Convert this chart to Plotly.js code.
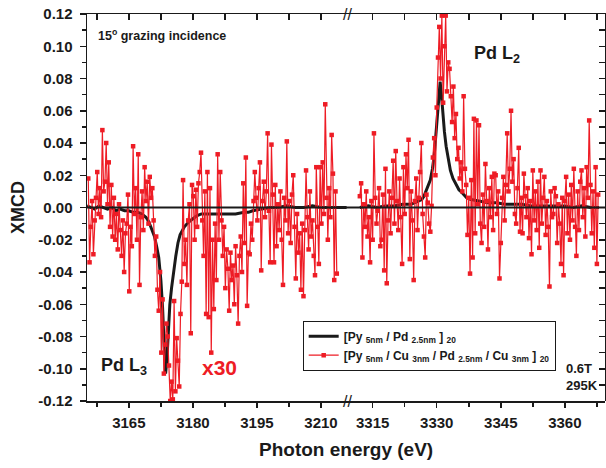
<!DOCTYPE html>
<html>
<head>
<meta charset="utf-8">
<script src="https://cdn.plot.ly/plotly-3.0.1.min.js"></script>
<style>html,body{margin:0;padding:0;background:#fff;}#chart{width:606px;height:468px;}</style>
</head>
<body>
<div id="chart"></div>
<script>
// ---------- DATA ----------
// Red series: [Py5nm/Cu3nm/Pd2.5nm/Cu3nm]20 (x30), sampled on an even energy grid
const redLowStartEV = 3155.5;
const redHighStartEV = 3312.0;
const redStepEV = 0.3;
const redLowXMCD = [
  0.018, -0.034, -0.012, 0.004, -0.029, -0.008, 0.006, 0.022, -0.004, 0.012,
  -0.006, 0.048, 0.010, 0.016, 0.040, 0.002, 0.028, -0.012, 0.014, -0.018,
  0.006, -0.020, -0.004, -0.026, 0.002, -0.014, -0.030, -0.008, -0.040, -0.016,
  -0.010, 0.008, -0.052, -0.012, -0.024, 0.038, -0.004, 0.012, -0.020, 0.033,
  -0.048, -0.006, 0.010, -0.014, 0.025, 0.004, 0.016, -0.010, 0.019, 0.006,
  0.012, -0.008, -0.030, -0.018, -0.051, -0.064, -0.040, -0.090, -0.057, -0.103,
  -0.085, -0.072, -0.080, -0.098, -0.120, -0.108, -0.119, -0.058, -0.114, -0.081,
  -0.095, -0.111, -0.066, -0.046, 0.017, -0.035, -0.020, -0.048, -0.008, 0.002,
  -0.078, 0.014, 0.007, -0.020, 0.011, -0.012, 0.015, 0.022, 0.034, -0.008,
  -0.030, 0.010, -0.066, 0.022, -0.068, 0.012, -0.090, -0.020, -0.063, -0.010,
  -0.045, 0.033, -0.020, 0.022, -0.008, -0.030, -0.012, -0.050, -0.026, -0.038,
  -0.064, -0.028, -0.045, -0.036, -0.060, -0.024, -0.042, -0.072, -0.030, -0.018,
  -0.040, 0.015, -0.022, 0.031, -0.061, -0.028, -0.029, -0.010, -0.020, 0.004,
  0.022, 0.006, -0.008, 0.012, 0.028, -0.039, 0.004, 0.016, -0.006, 0.010,
  0.046, -0.002, -0.034, 0.039, 0.008, -0.034, 0.014, -0.024, 0.002, -0.014,
  0.010, -0.020, -0.048, 0.006, -0.008, 0.041, -0.016, 0.004, -0.022, 0.008,
  0.020, -0.012, -0.044, -0.004, -0.028, -0.016, -0.051, -0.010, -0.055, -0.014,
  0.023, -0.006, -0.026, 0.010, -0.018, -0.008, -0.030, -0.042, 0.025, -0.012,
  -0.035, 0.025, -0.010, 0.028, -0.004, 0.064, 0.006, -0.020, 0.012, -0.006,
  0.045, 0.021, -0.045, 0.010, -0.041
];
const redHighXMCD = [
  0.007, 0.015, -0.031, 0.002, -0.012, 0.010, -0.018, -0.006, -0.034, 0.004,
  -0.020, 0.046, 0.006, -0.010, -0.002, 0.012, -0.024, -0.020, 0.008, -0.039,
  0.024, -0.047, -0.008, 0.010, -0.016, 0.006, 0.029, -0.010, 0.035, 0.004,
  -0.014, 0.018, -0.006, -0.035, 0.025, -0.004, 0.033, 0.012, 0.042, -0.032,
  0.010, -0.008, -0.045, 0.004, 0.018, -0.014, 0.006, 0.022, 0.040, -0.004,
  -0.018, -0.031, 0.008, 0.003, -0.010, -0.015, 0.001, 0.031, 0.043, 0.020,
  0.062, 0.093, 0.112, 0.080, 0.119, 0.065, 0.100, 0.119, 0.072, 0.090,
  0.086, 0.069, 0.053, 0.075, 0.043, 0.058, 0.030, 0.037, 0.018, 0.028,
  0.010, 0.069, 0.024, 0.014, -0.017, 0.006, -0.041, 0.017, -0.031, 0.055,
  -0.016, 0.054, 0.002, 0.051, -0.010, -0.022, 0.008, -0.012, 0.027, 0.004,
  -0.026, 0.012, -0.006, 0.019, -0.014, 0.021, 0.020, -0.004, 0.010, -0.044,
  -0.022, 0.006, 0.019, -0.008, 0.014, 0.046, 0.010, 0.024, 0.060, 0.016,
  0.030, -0.004, -0.010, 0.012, 0.037, -0.015, 0.006, -0.016, 0.021, 0.007,
  -0.006, 0.012, -0.019, 0.004, -0.029, 0.023, -0.008, 0.010, -0.014, 0.016,
  -0.025, 0.023, -0.010, 0.006, 0.019, -0.017, 0.004, -0.012, -0.049, 0.010,
  -0.006, -0.004, 0.012, 0.007, -0.022, 0.002, -0.010, -0.035, 0.006, -0.042,
  0.004, 0.019, -0.016, 0.008, -0.020, 0.014, -0.008, 0.024, -0.012, -0.030,
  0.010, -0.014, 0.016, 0.023, -0.006, 0.012, -0.018, 0.025, 0.006, 0.054,
  0.014, -0.016, 0.010, -0.025, 0.025, -0.035, 0.008
];

// Black series: [Py5nm/Pd2.5nm]20
const blackLowEV = [3155.2, 3156, 3157, 3158, 3159, 3160, 3161, 3162, 3163, 3164, 3165, 3166, 3167, 3168,
  3169, 3169.5, 3170, 3170.5, 3171, 3171.5, 3172, 3172.5, 3172.9, 3173.3, 3173.6, 3173.9, 3174.2,
  3174.6, 3175, 3175.4, 3176, 3176.5, 3177, 3178, 3179, 3180, 3181, 3182, 3184, 3186, 3188, 3190,
  3192, 3193, 3194, 3196, 3198, 3200, 3202, 3204, 3206, 3208, 3210, 3212, 3214, 3216];
const blackLowXMCD = [0.001, 0.000, -0.001, 0.001, 0.000, -0.001, 0.000, -0.002, -0.001, -0.002, -0.002, -0.003, -0.003, -0.004,
  -0.006, -0.008, -0.011, -0.014, -0.018, -0.024, -0.031, -0.045, -0.062, -0.088, -0.103, -0.095, -0.075,
  -0.060, -0.050, -0.041, -0.030, -0.022, -0.017, -0.012, -0.009, -0.007, -0.005, -0.004, -0.004, -0.004, -0.004, -0.004,
  -0.003, -0.003, -0.002, -0.001, 0.000, 0.000, 0.001, 0.000, 0.000, 0.001, 0.000, 0.000, 0.000, 0.000];
const blackHighEV = [3312, 3314, 3316, 3318, 3320, 3322, 3324, 3325, 3326, 3326.5, 3327, 3327.5, 3328, 3328.5,
  3329, 3329.4, 3329.8, 3330.2, 3330.5, 3330.8, 3331.1, 3331.4, 3331.8, 3332.2, 3332.7, 3333.2, 3333.8,
  3334.5, 3335.2, 3336, 3337, 3338, 3340, 3342, 3344, 3346, 3348, 3350, 3352, 3354, 3356, 3358, 3360,
  3362, 3364, 3366, 3368];
const blackHighXMCD = [0.000, 0.001, 0.000, 0.001, 0.001, 0.002, 0.002, 0.003, 0.004, 0.005, 0.007, 0.010, 0.013, 0.017,
  0.024, 0.032, 0.045, 0.060, 0.072, 0.078, 0.070, 0.058, 0.047, 0.038, 0.029, 0.023, 0.018,
  0.014, 0.011, 0.009, 0.006, 0.005, 0.004, 0.003, 0.003, 0.002, 0.002, 0.002, 0.001, 0.001, 0.001, 0.001, 0.001,
  0.000, 0.001, 0.000, 0.000];

const yTickVals = [-0.12, -0.10, -0.08, -0.06, -0.04, -0.02, 0.00, 0.02, 0.04, 0.06, 0.08, 0.10, 0.12];
const yTickText = ['-0.12', '-0.10', '-0.08', '-0.06', '-0.04', '-0.02', '0.00', '0.02', '0.04', '0.06', '0.08', '0.10', '0.12'];
const lowRange = [3155.2, 3216.1];
const highRange = [3309.0, 3369.4];

const legendBlack = '[Py <sub>5nm</sub> / Pd <sub>2.5nm</sub> ] <sub>20</sub>';
const legendRed = '[Py <sub>5nm</sub> / Cu <sub>3nm</sub> / Pd <sub>2.5nm</sub> / Cu <sub>3nm</sub> ] <sub>20</sub>';

// ---------- BUILD ----------
const energyGrid = (start, n) => Array.from({length: n}, (_, i) => +(start + i * redStepEV).toFixed(2));
const redLowEV = energyGrid(redLowStartEV, redLowXMCD.length);
const redHighEV = energyGrid(redHighStartEV, redHighXMCD.length);

const FONT = 'Liberation Sans, Arial, sans-serif';
const INK = '#1a1a1a';
const RED = '#ee1c25';
const SPLIT = 0.502;

const blackLine = {color: INK, width: 3};
const redLine = {color: RED, width: 1.2};
const redMarker = {symbol: 'square', size: 4.5, color: RED};

// black on the bottom/left axes; red on same-scaled top/right axes (drawn later, so above)
const traces = [
  {x: blackLowEV, y: blackLowXMCD, xaxis: 'x', yaxis: 'y', mode: 'lines', line: blackLine, name: legendBlack, legendgroup: 'b'},
  {x: blackHighEV, y: blackHighXMCD, xaxis: 'x2', yaxis: 'y', mode: 'lines', line: blackLine, name: legendBlack, legendgroup: 'b', showlegend: false},
  {x: redLowEV, y: redLowXMCD, xaxis: 'x3', yaxis: 'y', mode: 'lines+markers', line: redLine, marker: redMarker, name: legendRed, legendgroup: 'r'},
  {x: redHighEV, y: redHighXMCD, xaxis: 'x4', yaxis: 'y2', mode: 'lines+markers', line: redLine, marker: redMarker, name: legendRed, legendgroup: 'r', showlegend: false}
];

function xAxisBase(range, tick0) {
  return {
    range: range, tickmode: 'linear', tick0: tick0, dtick: 15,
    showline: true, linecolor: INK, linewidth: 1.5,
    ticks: 'outside', ticklen: 5, tickwidth: 1.5, tickcolor: INK,
    minor: {dtick: 7.5, ticks: 'outside', ticklen: 4, tickwidth: 1.5, tickcolor: INK},
    showgrid: false, zeroline: false,
    tickfont: {family: FONT, size: 15, color: INK, weight: 'bold'},
    ticklabelstandoff: 2
  };
}
function topAxis(domain, range, tick0, yAnchor) {
  return {
    domain: domain, side: 'top', anchor: yAnchor, range: range, tickmode: 'linear', tick0: tick0, dtick: 15,
    showline: true, linecolor: INK, linewidth: 1.5,
    ticks: 'inside', ticklen: 6, tickwidth: 1.5, tickcolor: INK, showticklabels: false,
    minor: {dtick: 7.5, ticks: 'inside', ticklen: 6, tickwidth: 1.5, tickcolor: INK},
    showgrid: false, zeroline: false
  };
}

const layout = {
  width: 606, height: 468,
  margin: {l: 87, r: 1, t: 14, b: 67},
  paper_bgcolor: '#ffffff', plot_bgcolor: 'rgba(0,0,0,0)',
  font: {family: FONT, size: 15, color: INK},
  showlegend: true,
  legend: {
    x: 0.4164, y: 0.2075, xanchor: 'left', yanchor: 'top',
    bordercolor: INK, borderwidth: 1, bgcolor: '#ffffff',
    font: {family: FONT, size: 12, color: INK, weight: 'bold'},
    traceorder: 'normal', tracegroupgap: 0
  },
  xaxis: Object.assign(xAxisBase(lowRange, 3165), {domain: [0, SPLIT], anchor: 'y'}),
  xaxis2: Object.assign(xAxisBase(highRange, 3315), {domain: [SPLIT, 1], anchor: 'y'}),
  xaxis3: topAxis([0, SPLIT], lowRange, 3165, 'y'),
  xaxis4: topAxis([SPLIT, 1], highRange, 3315, 'y2'),
  yaxis: {
    domain: [0, 1], range: [-0.12, 0.12], tickmode: 'array', tickvals: yTickVals, ticktext: yTickText,
    showline: true, linecolor: INK, linewidth: 1.5,
    ticks: 'outside', ticklen: 6, tickwidth: 1.5, tickcolor: INK,
    minor: {tick0: 0, dtick: 0.01, ticks: 'outside', ticklen: 4, tickwidth: 1.5, tickcolor: INK},
    showgrid: false, zeroline: false,
    tickfont: {family: FONT, size: 15, color: INK, weight: 'bold'},
    ticklabelstandoff: 4,
    title: {text: 'XMCD', font: {family: FONT, size: 18, color: INK, weight: 'bold'}, standoff: 9}
  },
  yaxis2: {
    domain: [0, 1], side: 'right', anchor: 'x4', range: [-0.12, 0.12], tickmode: 'linear', tick0: 0, dtick: 0.02,
    showline: true, linecolor: INK, linewidth: 1.5,
    ticks: 'inside', ticklen: 6, tickwidth: 1.5, tickcolor: INK, showticklabels: false,
    minor: {dtick: 0.01, ticks: 'inside', ticklen: 6, tickwidth: 1.5, tickcolor: INK},
    showgrid: false, zeroline: false
  },
  shapes: [
    {type: 'line', xref: 'paper', x0: 0, x1: 1, yref: 'y', y0: 0, y1: 0, layer: 'above', line: {color: INK, width: 2}}
  ],
  annotations: [
    {text: 'Photon energy (eV)', xref: 'paper', yref: 'paper', x: 0.5, y: -0.1266, xanchor: 'center', yanchor: 'middle', showarrow: false,
      font: {family: FONT, size: 19, color: INK, weight: 'bold'}},
    {text: '15<sup>o</sup> grazing incidence', xref: 'paper', yref: 'paper', x: 0.0174, y: 0.946, xanchor: 'left', yanchor: 'middle', showarrow: false,
      font: {family: FONT, size: 12.5, color: INK, weight: 'bold'}},
    {text: 'Pd L<sub>2</sub>', xref: 'paper', yref: 'paper', x: 0.7427, y: 0.895, xanchor: 'left', yanchor: 'middle', showarrow: false,
      font: {family: FONT, size: 18, color: INK, weight: 'bold'}},
    {text: 'Pd L<sub>3</sub>', xref: 'paper', yref: 'paper', x: 0.0232, y: 0.088, xanchor: 'left', yanchor: 'middle', showarrow: false,
      font: {family: FONT, size: 18, color: INK, weight: 'bold'}},
    {text: 'x30', xref: 'paper', yref: 'paper', x: 0.218, y: 0.0853, xanchor: 'left', yanchor: 'middle', showarrow: false,
      font: {family: FONT, size: 21, color: RED, weight: 'bold'}},
    {text: '0.6T', xref: 'paper', yref: 'paper', x: 0.9214, y: 0.084, xanchor: 'left', yanchor: 'middle', showarrow: false,
      font: {family: FONT, size: 13, color: INK, weight: 'bold'}},
    {text: '295K', xref: 'paper', yref: 'paper', x: 0.9214, y: 0.0388, xanchor: 'left', yanchor: 'middle', showarrow: false,
      font: {family: FONT, size: 13, color: INK, weight: 'bold'}},
    {text: '//', xref: 'paper', yref: 'paper', x: SPLIT, y: 1, xanchor: 'center', yanchor: 'middle', showarrow: false,
      font: {family: FONT, size: 16, color: INK}},
    {text: '//', xref: 'paper', yref: 'paper', x: SPLIT, y: 0, xanchor: 'center', yanchor: 'middle', showarrow: false,
      font: {family: FONT, size: 16, color: INK}}
  ]
};

Plotly.newPlot('chart', traces, layout, {displayModeBar: false, staticPlot: true});
</script>
</body>
</html>
